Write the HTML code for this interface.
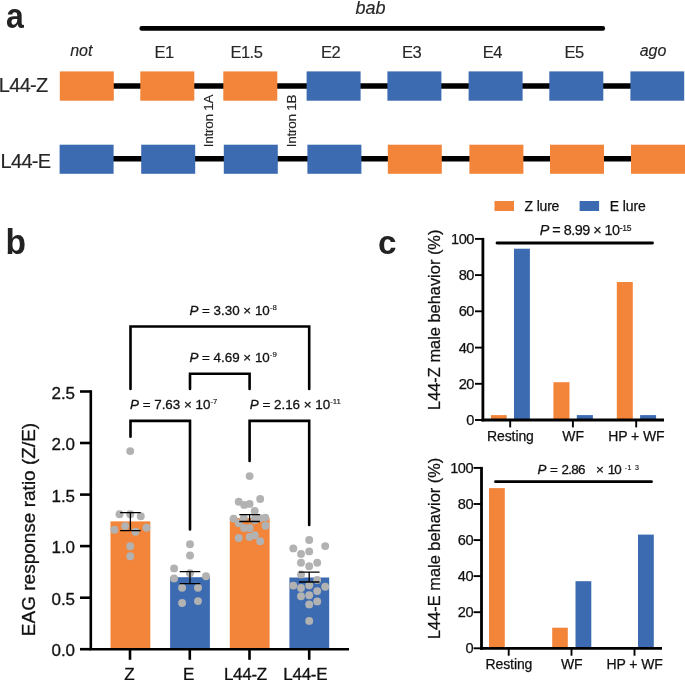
<!DOCTYPE html>
<html lang="en"><head><meta charset="utf-8"><title>Figure</title>
<style>html,body{margin:0;padding:0;background:#fff}body{width:685px;height:680px;overflow:hidden}svg{display:block}text{font-family:"Liberation Sans",Arial,Helvetica,sans-serif;fill:#111111;stroke:#111;stroke-width:0.3px;stroke-linejoin:round}.i{font-style:italic}.b{font-weight:bold;stroke:none;fill:#222}#panel-a text{stroke:#262626;stroke-width:0.15px;fill:#262626}#panel-a text.b{fill:#222;stroke:none}#panel-c text{stroke-width:0.25px}#panel-c text.b{stroke:none}</style>
</head><body>
<svg width="685" height="680" viewBox="0 0 685 680">
<rect width="685" height="680" fill="#ffffff"/>
<g id="panel-a">
<text class="b" transform="translate(6,28.4) scale(1,1.09)" font-size="32">a</text>
<text class="i" x="370.5" y="14" font-size="18" text-anchor="middle">bab</text>
<line x1="141.7" y1="28.4" x2="602.8" y2="28.4" stroke="#000" stroke-width="4.6" stroke-linecap="round"/>
<line x1="100" y1="86" x2="650" y2="86" stroke="#000" stroke-width="5.6"/>
<line x1="100" y1="158.8" x2="650" y2="158.8" stroke="#000" stroke-width="5.4"/>
<rect x="59.8" y="71.4" width="54.0" height="29.3" fill="#F3853A"/>
<rect x="59.6" y="144.7" width="54.0" height="29.1" fill="#3D6BB2"/>
<rect x="140.3" y="71.4" width="54.0" height="29.3" fill="#F3853A"/>
<rect x="141.2" y="144.7" width="54.0" height="29.1" fill="#3D6BB2"/>
<rect x="223.3" y="71.4" width="54.0" height="29.3" fill="#F3853A"/>
<rect x="223.8" y="144.7" width="54.0" height="29.1" fill="#3D6BB2"/>
<rect x="306.6" y="71.4" width="54.0" height="29.3" fill="#3D6BB2"/>
<rect x="307.4" y="144.7" width="54.0" height="29.1" fill="#3D6BB2"/>
<rect x="387.4" y="71.4" width="54.0" height="29.3" fill="#3D6BB2"/>
<rect x="387.8" y="144.7" width="54.0" height="29.1" fill="#F3853A"/>
<rect x="468.6" y="71.4" width="54.0" height="29.3" fill="#3D6BB2"/>
<rect x="469.4" y="144.7" width="54.0" height="29.1" fill="#F3853A"/>
<rect x="549.3" y="71.4" width="54.0" height="29.3" fill="#3D6BB2"/>
<rect x="550.0" y="144.7" width="54.0" height="29.1" fill="#F3853A"/>
<rect x="630.4" y="71.4" width="53.8" height="29.3" fill="#3D6BB2"/>
<rect x="631.0" y="144.7" width="54.0" height="29.1" fill="#F3853A"/>
<text class="i" x="81.3" y="55.8" font-size="16" text-anchor="middle">not</text>
<text x="164.0" y="57.6" font-size="16.5" letter-spacing="-0.5" text-anchor="middle">E1</text>
<text x="246.4" y="57.6" font-size="16.5" letter-spacing="-0.5" text-anchor="middle">E1.5</text>
<text x="330.5" y="57.6" font-size="16.5" letter-spacing="-0.5" text-anchor="middle">E2</text>
<text x="411.5" y="57.6" font-size="16.5" letter-spacing="-0.5" text-anchor="middle">E3</text>
<text x="492.3" y="57.6" font-size="16.5" letter-spacing="-0.5" text-anchor="middle">E4</text>
<text x="574.2" y="57.6" font-size="16.5" letter-spacing="-0.5" text-anchor="middle">E5</text>
<text class="i" x="653.0" y="55.8" font-size="16" text-anchor="middle">ago</text>
<text x="-1.2" y="92.3" font-size="20" letter-spacing="-0.7">L44-Z</text>
<text x="0.6" y="167.6" font-size="20" letter-spacing="-0.7">L44-E</text>
<text transform="translate(213,147.2) rotate(-90)" font-size="13.6" letter-spacing="-0.3">Intron 1A</text>
<text transform="translate(295.5,147.2) rotate(-90)" font-size="13.6" letter-spacing="-0.3">Intron 1B</text>
</g>
<g id="panel-b">
<text class="b" transform="translate(5.6,253.8) scale(1.05,1.07)" font-size="32">b</text>
<rect x="110.5" y="521.4" width="39.8" height="127.8" fill="#F3853A"/>
<rect x="170.1" y="577.2" width="39.8" height="72.0" fill="#3D6BB2"/>
<rect x="229.8" y="518.1" width="39.8" height="131.1" fill="#F3853A"/>
<rect x="289.4" y="577.5" width="39.8" height="71.7" fill="#3D6BB2"/>
<circle cx="130.2" cy="451.1" r="3.95" fill="#B2B2B2"/>
<circle cx="119.5" cy="514.3" r="3.95" fill="#B2B2B2"/>
<circle cx="130.2" cy="514.3" r="3.95" fill="#B2B2B2"/>
<circle cx="140.8" cy="516.3" r="3.95" fill="#B2B2B2"/>
<circle cx="125.1" cy="526.1" r="3.95" fill="#B2B2B2"/>
<circle cx="146.5" cy="527.8" r="3.95" fill="#B2B2B2"/>
<circle cx="114.4" cy="529.8" r="3.95" fill="#B2B2B2"/>
<circle cx="135.5" cy="531.7" r="3.95" fill="#B2B2B2"/>
<circle cx="130.2" cy="546.2" r="3.95" fill="#B2B2B2"/>
<circle cx="130.2" cy="556.3" r="3.95" fill="#B2B2B2"/>
<circle cx="190.0" cy="544.3" r="3.95" fill="#B2B2B2"/>
<circle cx="190.0" cy="555.5" r="3.95" fill="#B2B2B2"/>
<circle cx="174.1" cy="568.4" r="3.95" fill="#B2B2B2"/>
<circle cx="190.0" cy="573.3" r="3.95" fill="#B2B2B2"/>
<circle cx="206.0" cy="576.2" r="3.95" fill="#B2B2B2"/>
<circle cx="174.1" cy="578.4" r="3.95" fill="#B2B2B2"/>
<circle cx="182.1" cy="587.8" r="3.95" fill="#B2B2B2"/>
<circle cx="198.0" cy="587.8" r="3.95" fill="#B2B2B2"/>
<circle cx="182.1" cy="603.0" r="3.95" fill="#B2B2B2"/>
<circle cx="198.0" cy="601.1" r="3.95" fill="#B2B2B2"/>
<circle cx="249.6" cy="476.1" r="3.95" fill="#B2B2B2"/>
<circle cx="260.2" cy="499.0" r="3.95" fill="#B2B2B2"/>
<circle cx="238.7" cy="501.8" r="3.95" fill="#B2B2B2"/>
<circle cx="244.2" cy="504.9" r="3.95" fill="#B2B2B2"/>
<circle cx="249.6" cy="503.9" r="3.95" fill="#B2B2B2"/>
<circle cx="254.7" cy="511.0" r="3.95" fill="#B2B2B2"/>
<circle cx="233.6" cy="518.6" r="3.95" fill="#B2B2B2"/>
<circle cx="243.8" cy="517.9" r="3.95" fill="#B2B2B2"/>
<circle cx="254.9" cy="518.5" r="3.95" fill="#B2B2B2"/>
<circle cx="238.7" cy="523.3" r="3.95" fill="#B2B2B2"/>
<circle cx="265.3" cy="517.6" r="3.95" fill="#B2B2B2"/>
<circle cx="260.2" cy="518.2" r="3.95" fill="#B2B2B2"/>
<circle cx="244.2" cy="528.0" r="3.95" fill="#B2B2B2"/>
<circle cx="249.6" cy="528.0" r="3.95" fill="#B2B2B2"/>
<circle cx="265.5" cy="525.7" r="3.95" fill="#B2B2B2"/>
<circle cx="254.7" cy="520.3" r="3.95" fill="#B2B2B2"/>
<circle cx="238.7" cy="538.0" r="3.95" fill="#B2B2B2"/>
<circle cx="249.6" cy="537.0" r="3.95" fill="#B2B2B2"/>
<circle cx="254.7" cy="535.3" r="3.95" fill="#B2B2B2"/>
<circle cx="260.2" cy="541.3" r="3.95" fill="#B2B2B2"/>
<circle cx="309.2" cy="540.0" r="3.95" fill="#B2B2B2"/>
<circle cx="325.2" cy="546.1" r="3.95" fill="#B2B2B2"/>
<circle cx="293.3" cy="548.4" r="3.95" fill="#B2B2B2"/>
<circle cx="309.2" cy="551.4" r="3.95" fill="#B2B2B2"/>
<circle cx="301.0" cy="553.9" r="3.95" fill="#B2B2B2"/>
<circle cx="317.2" cy="562.7" r="3.95" fill="#B2B2B2"/>
<circle cx="301.0" cy="562.7" r="3.95" fill="#B2B2B2"/>
<circle cx="309.2" cy="566.2" r="3.95" fill="#B2B2B2"/>
<circle cx="301.0" cy="574.4" r="3.95" fill="#B2B2B2"/>
<circle cx="317.2" cy="579.9" r="3.95" fill="#B2B2B2"/>
<circle cx="293.3" cy="585.6" r="3.95" fill="#B2B2B2"/>
<circle cx="309.2" cy="585.2" r="3.95" fill="#B2B2B2"/>
<circle cx="325.2" cy="586.8" r="3.95" fill="#B2B2B2"/>
<circle cx="301.0" cy="588.0" r="3.95" fill="#B2B2B2"/>
<circle cx="317.2" cy="591.1" r="3.95" fill="#B2B2B2"/>
<circle cx="301.0" cy="596.2" r="3.95" fill="#B2B2B2"/>
<circle cx="309.2" cy="595.2" r="3.95" fill="#B2B2B2"/>
<circle cx="317.2" cy="601.4" r="3.95" fill="#B2B2B2"/>
<circle cx="309.2" cy="604.4" r="3.95" fill="#B2B2B2"/>
<circle cx="309.2" cy="620.9" r="3.95" fill="#B2B2B2"/>
<path d="M120.1 512.7H140.7M120.1 530.6H140.7M130.4 512.7V530.6" fill="none" stroke="#000" stroke-width="1.3"/>
<path d="M179.7 571.6H200.3M179.7 583.6H200.3M190.0 571.6V583.6" fill="none" stroke="#000" stroke-width="1.3"/>
<path d="M239.3 514.7H259.9M239.3 521.5H259.9M249.6 514.7V521.5" fill="none" stroke="#000" stroke-width="1.3"/>
<path d="M298.9 572.1H319.5M298.9 582.0H319.5M309.2 572.1V582.0" fill="none" stroke="#000" stroke-width="1.3"/>
<path d="M90.8 390.2V649.2H349" fill="none" stroke="#000" stroke-width="2.6" stroke-linejoin="miter"/>
<line x1="80" y1="649.2" x2="90.8" y2="649.2" stroke="#000" stroke-width="2.6"/>
<text x="74.8" y="656.2" font-size="17" letter-spacing="-0.15" text-anchor="end">0.0</text>
<line x1="80" y1="597.7" x2="90.8" y2="597.7" stroke="#000" stroke-width="2.6"/>
<text x="74.8" y="604.7" font-size="17" letter-spacing="-0.15" text-anchor="end">0.5</text>
<line x1="80" y1="546.1" x2="90.8" y2="546.1" stroke="#000" stroke-width="2.6"/>
<text x="74.8" y="553.1" font-size="17" letter-spacing="-0.15" text-anchor="end">1.0</text>
<line x1="80" y1="494.6" x2="90.8" y2="494.6" stroke="#000" stroke-width="2.6"/>
<text x="74.8" y="501.6" font-size="17" letter-spacing="-0.15" text-anchor="end">1.5</text>
<line x1="80" y1="443.0" x2="90.8" y2="443.0" stroke="#000" stroke-width="2.6"/>
<text x="74.8" y="450.0" font-size="17" letter-spacing="-0.15" text-anchor="end">2.0</text>
<line x1="80" y1="391.5" x2="90.8" y2="391.5" stroke="#000" stroke-width="2.6"/>
<text x="74.8" y="398.5" font-size="17" letter-spacing="-0.15" text-anchor="end">2.5</text>
<line x1="130.0" y1="649.2" x2="130.0" y2="659.8" stroke="#000" stroke-width="2.6"/>
<text x="129.3" y="679.8" font-size="17" letter-spacing="-0.3" text-anchor="middle">Z</text>
<line x1="189.8" y1="649.2" x2="189.8" y2="659.8" stroke="#000" stroke-width="2.6"/>
<text x="188.6" y="679.8" font-size="17" letter-spacing="-0.3" text-anchor="middle">E</text>
<line x1="249.5" y1="649.2" x2="249.5" y2="659.8" stroke="#000" stroke-width="2.6"/>
<text x="245.4" y="679.8" font-size="17" letter-spacing="-0.3" text-anchor="middle">L44-Z</text>
<line x1="309.2" y1="649.2" x2="309.2" y2="659.8" stroke="#000" stroke-width="2.6"/>
<text x="305.3" y="679.8" font-size="17" letter-spacing="-0.3" text-anchor="middle">L44-E</text>
<text transform="translate(35.1,529.5) rotate(-90)" font-size="19" text-anchor="middle">EAG response ratio (Z/E)</text>
<path d="M130.5 389.0V326.5H309.2V389.0" fill="none" stroke="#000" stroke-width="2.6" stroke-linejoin="miter" stroke-linecap="round"/>
<path d="M190.0 389.0V373.8H249.6V389.0" fill="none" stroke="#000" stroke-width="2.6" stroke-linejoin="miter" stroke-linecap="round"/>
<path d="M130.5 436.7V420.9H190.0V529.5" fill="none" stroke="#000" stroke-width="2.6" stroke-linejoin="miter" stroke-linecap="round"/>
<path d="M249.6 461.0V420.9H309.2V525.0" fill="none" stroke="#000" stroke-width="2.6" stroke-linejoin="miter" stroke-linecap="round"/>
<text x="189.4" y="314.8" font-size="13.4" letter-spacing="0.00" text-anchor="start"><tspan class="i">P</tspan> = 3.30 × 10<tspan font-size="7.8" dy="-4.6" letter-spacing="0.00" stroke-width="0.15">-8</tspan></text>
<text x="189.4" y="361.5" font-size="13.4" letter-spacing="0.00" text-anchor="start"><tspan class="i">P</tspan> = 4.69 × 10<tspan font-size="7.8" dy="-4.6" letter-spacing="0.00" stroke-width="0.15">-9</tspan></text>
<text x="130.0" y="408.5" font-size="13.4" letter-spacing="0.00" text-anchor="start"><tspan class="i">P</tspan> = 7.63 × 10<tspan font-size="7.8" dy="-4.6" letter-spacing="0.00" stroke-width="0.15">-7</tspan></text>
<text x="249.8" y="408.5" font-size="13.4" letter-spacing="0.00" text-anchor="start"><tspan class="i">P</tspan> = 2.16 × 10<tspan font-size="7.8" dy="-4.6" letter-spacing="0.00" stroke-width="0.15">-11</tspan></text>
</g>
<g id="panel-c">
<text class="b" transform="translate(378,254) scale(1.04,1.06)" font-size="32">c</text>
<rect x="494.5" y="201" width="19.5" height="10" fill="#F3853A"/>
<text x="524.6" y="211.3" font-size="14" letter-spacing="-0.2">Z lure</text>
<rect x="579.6" y="201" width="19.5" height="10" fill="#3D6BB2"/>
<text x="609.8" y="211.3" font-size="14" letter-spacing="-0.1">E lure</text>
<rect x="490.9" y="415.1" width="15.8" height="4.9" fill="#F3853A"/>
<rect x="514.0" y="248.7" width="15.9" height="171.3" fill="#3D6BB2"/>
<rect x="553.4" y="382.2" width="16.1" height="37.8" fill="#F3853A"/>
<rect x="576.8" y="415.1" width="16.1" height="4.9" fill="#3D6BB2"/>
<rect x="616.8" y="282.0" width="16.0" height="138.0" fill="#F3853A"/>
<rect x="640.1" y="415.1" width="16.0" height="4.9" fill="#3D6BB2"/>
<path d="M482.90 237.9V421.4" fill="none" stroke="#000" stroke-width="2.8"/>
<path d="M481.50 420.0H664.0" fill="none" stroke="#000" stroke-width="2.8"/>
<line x1="475.0" y1="420.0" x2="483.0" y2="420.0" stroke="#000" stroke-width="1.9"/>
<text x="474.0" y="425.1" font-size="14.6" letter-spacing="-0.45" text-anchor="end">0</text>
<line x1="475.0" y1="383.8" x2="483.0" y2="383.8" stroke="#000" stroke-width="1.9"/>
<text x="474.0" y="388.9" font-size="14.6" letter-spacing="-0.45" text-anchor="end">20</text>
<line x1="475.0" y1="347.6" x2="483.0" y2="347.6" stroke="#000" stroke-width="1.9"/>
<text x="474.0" y="352.7" font-size="14.6" letter-spacing="-0.45" text-anchor="end">40</text>
<line x1="475.0" y1="311.3" x2="483.0" y2="311.3" stroke="#000" stroke-width="1.9"/>
<text x="474.0" y="316.4" font-size="14.6" letter-spacing="-0.45" text-anchor="end">60</text>
<line x1="475.0" y1="275.1" x2="483.0" y2="275.1" stroke="#000" stroke-width="1.9"/>
<text x="474.0" y="280.2" font-size="14.6" letter-spacing="-0.45" text-anchor="end">80</text>
<line x1="475.0" y1="238.9" x2="483.0" y2="238.9" stroke="#000" stroke-width="1.9"/>
<text x="474.0" y="244.0" font-size="14.6" letter-spacing="-0.45" text-anchor="end">100</text>
<line x1="510.2" y1="420.0" x2="510.2" y2="427.4" stroke="#000" stroke-width="1.9"/>
<text x="510.4" y="440.9" font-size="14" letter-spacing="-0.1" text-anchor="middle">Resting</text>
<line x1="572.9" y1="420.0" x2="572.9" y2="427.4" stroke="#000" stroke-width="1.9"/>
<text x="573.1" y="440.9" font-size="14" letter-spacing="-0.1" text-anchor="middle">WF</text>
<line x1="636.2" y1="420.0" x2="636.2" y2="427.4" stroke="#000" stroke-width="1.9"/>
<text x="636.4" y="440.9" font-size="14" letter-spacing="-0.1" text-anchor="middle">HP + WF</text>
<text transform="translate(439.8,319.8) rotate(-90)" font-size="16.4" text-anchor="middle">L44-Z male behavior (%)</text>
<line x1="497.0" y1="243.0" x2="652.5" y2="243.0" stroke="#000" stroke-width="2.8" stroke-linecap="round"/>
<text x="539.7" y="235.4" font-size="14.4" letter-spacing="-0.50" text-anchor="start"><tspan class="i">P</tspan> = 8.99 × 10<tspan font-size="8.6" dy="-4.4" letter-spacing="-0.30" stroke-width="0.15">-15</tspan></text>
<rect x="489.0" y="488.1" width="15.8" height="160.2" fill="#F3853A"/>
<rect x="552.2" y="627.7" width="15.6" height="20.6" fill="#F3853A"/>
<rect x="575.5" y="581.2" width="15.8" height="67.1" fill="#3D6BB2"/>
<rect x="638.0" y="534.6" width="15.8" height="113.7" fill="#3D6BB2"/>
<path d="M481.50 466.9V649.7" fill="none" stroke="#000" stroke-width="2.8"/>
<path d="M480.10 648.3H662.0" fill="none" stroke="#000" stroke-width="2.8"/>
<line x1="473.6" y1="648.3" x2="481.6" y2="648.3" stroke="#000" stroke-width="1.9"/>
<text x="473.2" y="653.4" font-size="14.6" letter-spacing="-0.45" text-anchor="end">0</text>
<line x1="473.6" y1="612.2" x2="481.6" y2="612.2" stroke="#000" stroke-width="1.9"/>
<text x="473.2" y="617.3" font-size="14.6" letter-spacing="-0.45" text-anchor="end">20</text>
<line x1="473.6" y1="576.1" x2="481.6" y2="576.1" stroke="#000" stroke-width="1.9"/>
<text x="473.2" y="581.2" font-size="14.6" letter-spacing="-0.45" text-anchor="end">40</text>
<line x1="473.6" y1="540.1" x2="481.6" y2="540.1" stroke="#000" stroke-width="1.9"/>
<text x="473.2" y="545.2" font-size="14.6" letter-spacing="-0.45" text-anchor="end">60</text>
<line x1="473.6" y1="504.0" x2="481.6" y2="504.0" stroke="#000" stroke-width="1.9"/>
<text x="473.2" y="509.1" font-size="14.6" letter-spacing="-0.45" text-anchor="end">80</text>
<line x1="473.6" y1="467.9" x2="481.6" y2="467.9" stroke="#000" stroke-width="1.9"/>
<text x="473.2" y="473.0" font-size="14.6" letter-spacing="-0.45" text-anchor="end">100</text>
<line x1="508.7" y1="648.3" x2="508.7" y2="655.7" stroke="#000" stroke-width="1.9"/>
<text x="508.9" y="668.8" font-size="14" letter-spacing="-0.1" text-anchor="middle">Resting</text>
<line x1="571.5" y1="648.3" x2="571.5" y2="655.7" stroke="#000" stroke-width="1.9"/>
<text x="571.7" y="668.8" font-size="14" letter-spacing="-0.1" text-anchor="middle">WF</text>
<line x1="634.5" y1="648.3" x2="634.5" y2="655.7" stroke="#000" stroke-width="1.9"/>
<text x="634.7" y="668.8" font-size="14" letter-spacing="-0.1" text-anchor="middle">HP + WF</text>
<text transform="translate(439.7,548.4) rotate(-90)" font-size="16.4" text-anchor="middle">L44-E male behavior (%)</text>
<line x1="495.5" y1="481.7" x2="651.5" y2="481.7" stroke="#000" stroke-width="2.8" stroke-linecap="round"/>
<text y="473.5" font-size="13.4" style="stroke-width:0.3px"><tspan class="i" x="537.6">P</tspan><tspan x="549.9">=</tspan><tspan x="561.5" letter-spacing="-0.7">2.86</tspan><tspan x="595.9">×</tspan><tspan x="607.8" letter-spacing="-0.9">10</tspan><tspan font-size="7" y="470" x="624.8" style="stroke-width:0.15px">-</tspan><tspan font-size="7" y="470" x="627.4" style="stroke-width:0.15px">1</tspan><tspan font-size="7" y="470" x="634.9" style="stroke-width:0.15px">3</tspan></text>
</g>
</svg></body></html>
